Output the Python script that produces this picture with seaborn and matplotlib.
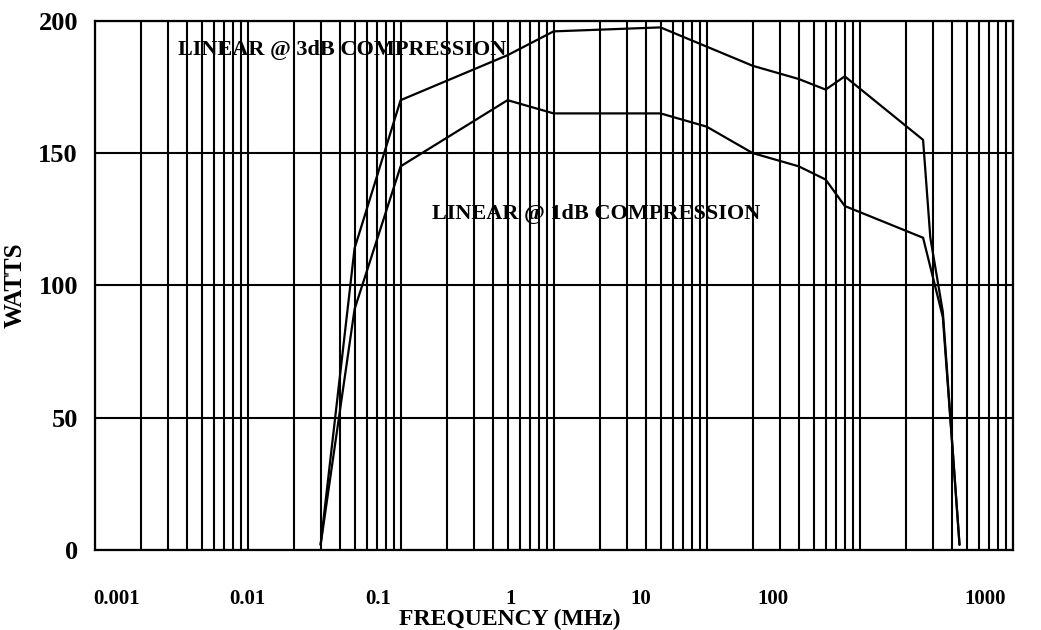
import matplotlib
matplotlib.use("Agg")
import matplotlib.pyplot as plt
from matplotlib.ticker import LogLocator, NullFormatter
import pandas as pd
import seaborn as sns

# power vs frequency
freq_3db = [0.03, 0.05, 0.1, 0.5, 1, 5, 20, 40, 60, 80, 260, 290, 350, 450]
watts_3db = [2, 114, 170, 187, 196, 197.5, 183, 178, 174, 179, 155, 118, 90, 2]

freq_1db = [0.03, 0.05, 0.1, 0.5, 1, 5, 10, 20, 40, 60, 80, 260, 350, 450]
watts_1db = [2, 91, 145, 170, 165, 165, 160, 150, 145, 140, 130, 118, 88, 2]

# the datasheet spaces its labels evenly, not on the decade lines
xtick_pos = [0.0014, 0.0099, 0.071, 0.52, 3.7, 27, 660]
xtick_labels = ["0.001", "0.01", "0.1", "1", "10", "100", "1000"]
ytick_pos = [0, 50, 100, 150, 200]

df = pd.concat([
    pd.DataFrame({"freq": freq_3db, "watts": watts_3db, "curve": "3dB"}),
    pd.DataFrame({"freq": freq_1db, "watts": watts_1db, "curve": "1dB"}),
])

sns.set_theme(style="white")
plt.rcParams["font.family"] = ["Liberation Serif", "DejaVu Serif"]
plt.rcParams["font.weight"] = "bold"
plt.rcParams["text.color"] = "black"
plt.rcParams["axes.labelcolor"] = "black"

fig = plt.figure(figsize=(10.41, 6.30), dpi=100)
ax = fig.add_axes([0.0909, 0.127, 0.8818, 0.840])

sns.lineplot(data=df, x="freq", y="watts", hue="curve", palette=["black", "black"],
             estimator=None, sort=False, legend=False, linewidth=1.6, ax=ax)

ax.set_xscale("log")
ax.set_xlim(0.001, 1000)
ax.set_ylim(0, 200)

# every 1..9 line of each decade is drawn
ax.xaxis.set_minor_locator(LogLocator(base=10, subs=range(1, 10), numticks=20))
ax.xaxis.set_minor_formatter(NullFormatter())
ax.xaxis.remove_overlapping_locs = False
ax.set_xticks(xtick_pos, xtick_labels)
ax.set_yticks(ytick_pos)
ax.xaxis.grid(True, which="minor", color="black", linewidth=1.5)
ax.xaxis.grid(False, which="major")
ax.yaxis.grid(True, which="major", color="black", linewidth=1.5)

ax.tick_params(axis="both", which="both", length=0, colors="black")
ax.tick_params(axis="x", pad=28, labelsize=15)
ax.tick_params(axis="y", pad=12, labelsize=19)
for lab in ax.get_xticklabels() + ax.get_yticklabels():
    lab.set_fontweight("bold")

for s in ax.spines.values():
    s.set_visible(True)
    s.set_color("black")
    s.set_linewidth(1.6)

ax.text(0.0035, 189, "LINEAR @ 3dB COMPRESSION", fontsize=16, fontweight="bold", va="center")
ax.text(0.16, 127, "LINEAR @ 1dB COMPRESSION", fontsize=16, fontweight="bold", va="center")

ax.set_xlabel("FREQUENCY (MHz)", fontsize=17, fontweight="bold", va="baseline")
ax.xaxis.set_label_coords(0.4525, -0.142)
ax.set_ylabel("WATTS", fontsize=18, fontweight="bold")
ax.yaxis.set_label_coords(-0.074, 0.5)

fig.savefig("out.png", dpi=100)
